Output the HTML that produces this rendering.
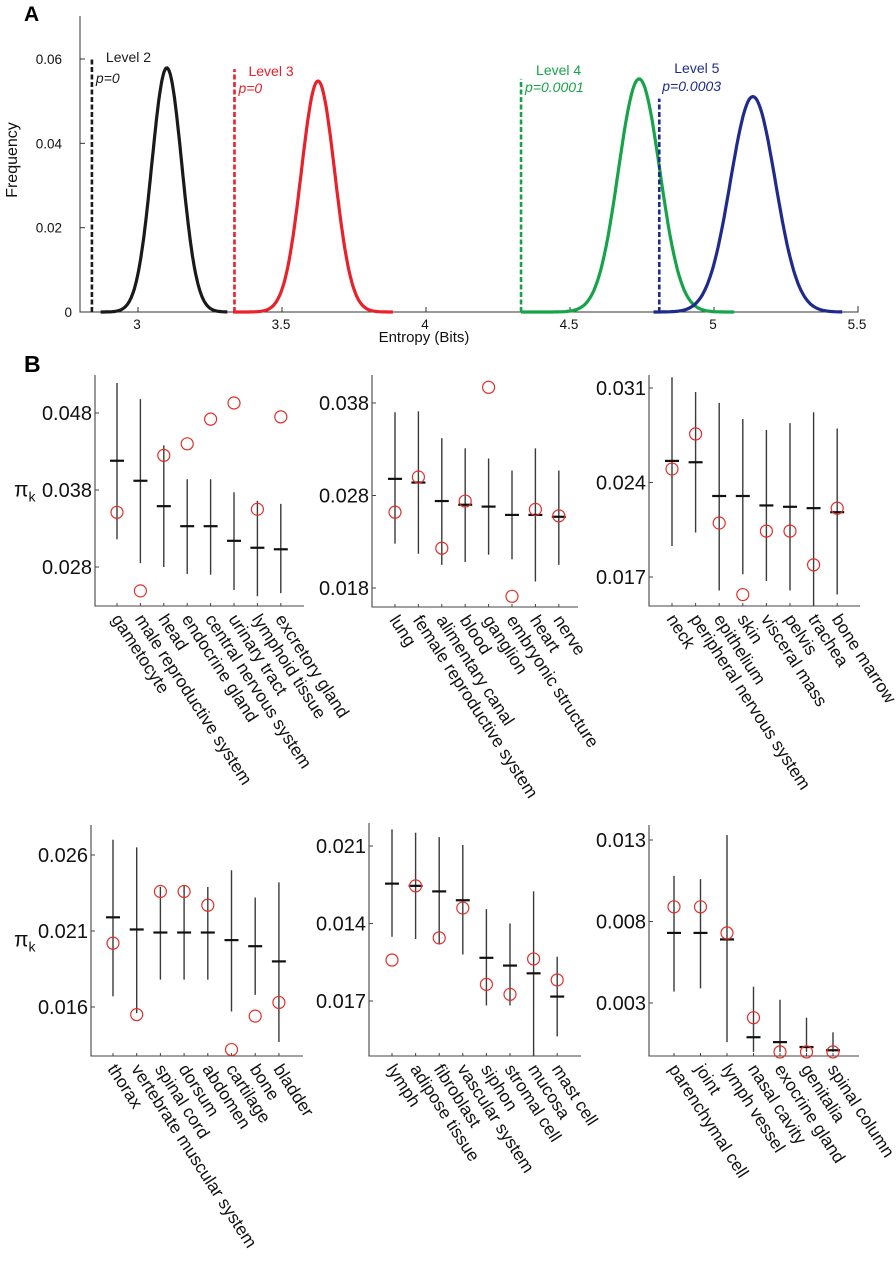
<!DOCTYPE html>
<html>
<head>
<meta charset="utf-8">
<style>
html,body{margin:0;padding:0;background:#fff;}
svg{display:block;font-family:"Liberation Sans",Arial,sans-serif;}
</style>
</head>
<body>
<svg id="fig" width="896" height="1280" viewBox="0 0 896 1280" xmlns="http://www.w3.org/2000/svg">
<text x="24" y="21" font-size="21" font-weight="bold">A</text>
<text x="24" y="372" font-size="23" font-weight="bold">B</text>
</svg>
<script>
// ---------- Panel A data ----------
const levelNames = ["Level 2","Level 3","Level 4","Level 5"];
const pLabels = ["p=0","p=0","p=0.0001","p=0.0003"];
const curveCenters = [3.10, 3.625, 4.74, 5.135];
const curvePeaks = [0.0579, 0.0548, 0.0553, 0.0511];
const curveSigmas = [0.052, 0.058, 0.072, 0.078];
const curveStarts = [2.87, 3.33, 4.33, 4.79];
const curveEnds = [3.31, 3.885, 5.07, 5.445];
const observedX = [2.84, 3.335, 4.33, 4.81];
const observedTop = [0.060, 0.0576, 0.0553, 0.0506];
const aXTicks = [3, 3.5, 4, 4.5, 5, 5.5];
const aXTickLabels = ["3","3.5","4","4.5","5","5.5"];
const aYTicks = [0, 0.02, 0.04, 0.06];
const aYTickLabels = ["0","0.02","0.04","0.06"];

// ---------- Panel B data ----------
const b1Cats = ["gametocyte","male reproductive system","head","endocrine gland","central nervous system","urinary tract","lymphoid tissue","excretory gland"];
const b1Mean = [0.0418,0.0392,0.0359,0.0333,0.0333,0.0314,0.0305,0.0303];
const b1Hi = [0.0519,0.0498,0.0438,0.0394,0.0394,0.0377,0.0366,0.0362];
const b1Lo = [0.0316,0.0285,0.0280,0.0271,0.0270,0.0250,0.0242,0.0246];
const b1Obs = [0.0351,0.0249,0.0425,0.0440,0.0472,0.0493,0.0355,0.0475];
const b1Ticks = [0.028,0.038,0.048];
const b1TickLabels = ["0.028","0.038","0.048"];

const b2Cats = ["lung","female reproductive system","alimentary canal","blood","ganglion","embryonic structure","heart","nerve"];
const b2Mean = [0.0298,0.0294,0.0274,0.0270,0.0268,0.0259,0.0259,0.0257];
const b2Hi = [0.0370,0.0371,0.0342,0.0331,0.0320,0.0307,0.0331,0.0307];
const b2Lo = [0.0228,0.0217,0.0205,0.0208,0.0216,0.0211,0.0187,0.0205];
const b2Obs = [0.0262,0.0300,0.0223,0.0274,0.0397,0.0171,0.0265,0.0258];
const b2Ticks = [0.018,0.028,0.038];
const b2TickLabels = ["0.018","0.028","0.038"];

const b3Cats = ["neck","peripheral nervous system","epithelium","skin","visceral mass","pelvis","trachea","bone marrow"];
const b3Mean = [0.0256,0.0255,0.0230,0.0230,0.0223,0.0222,0.0221,0.0218];
const b3Hi = [0.0318,0.0307,0.0299,0.0287,0.0279,0.0284,0.0292,0.0280];
const b3Lo = [0.0193,0.0203,0.0160,0.0172,0.0167,0.0160,0.0149,0.0157];
const b3Obs = [0.0250,0.0276,0.0210,0.0157,0.0204,0.0204,0.0179,0.0221];
const b3Ticks = [0.017,0.024,0.031];
const b3TickLabels = ["0.017","0.024","0.031"];

const b4Cats = ["thorax","vertebrate muscular system","spinal cord","dorsum","abdomen","cartilage","bone","bladder"];
const b4Mean = [0.0219,0.0211,0.0209,0.0209,0.0209,0.0204,0.0200,0.0190];
const b4Hi = [0.0270,0.0265,0.0239,0.0240,0.0239,0.0250,0.0232,0.0242];
const b4Lo = [0.0167,0.0156,0.0178,0.0178,0.0178,0.0157,0.0168,0.0137];
const b4Obs = [0.0202,0.0155,0.0236,0.0236,0.0227,0.0132,0.0154,0.0163];
const b4Ticks = [0.016,0.021,0.026];
const b4TickLabels = ["0.016","0.021","0.026"];

const b5Cats = ["lymph","adipose tissue","fibroblast","vascular system","siphon","stromal cell","mucosa","mast cell"];
const b5Mean = [0.0176,0.0174,0.0169,0.0161,0.0109,0.0102,0.0095,0.0074];
const b5Hi = [0.0225,0.0222,0.0218,0.0211,0.0153,0.0140,0.0169,0.0110];
const b5Lo = [0.0128,0.0126,0.0121,0.0112,0.0066,0.0066,0.0020,0.0038];
const b5Obs = [0.0107,0.0174,0.0127,0.0154,0.0085,0.0076,0.0108,0.0089];
const b5Ticks = [0.007,0.014,0.021];
const b5TickLabels = ["0.017","0.014","0.021"];

const b6Cats = ["parenchymal cell","joint","lymph vessel","nasal cavity","exocrine gland","genitalia","spinal column"];
const b6Mean = [0.0073,0.0073,0.0069,0.0009,0.0006,0.0003,0.0001];
const b6Hi = [0.0108,0.0106,0.0133,0.0040,0.0032,0.0021,0.0012];
const b6Lo = [0.0037,0.0039,0.0006,0.0000,0.0000,0.0000,0.0000];
const b6Obs = [0.0089,0.0089,0.0073,0.0021,0.0000,0.0000,0.0000];
const b6Ticks = [0.003,0.008,0.013];
const b6TickLabels = ["0.003","0.008","0.013"];

const NS = "http://www.w3.org/2000/svg";
const svg = document.getElementById("fig");
function mk(tag, attrs, parent){
  const e = document.createElementNS(NS, tag);
  for (const k in attrs) e.setAttribute(k, attrs[k]);
  (parent||svg).appendChild(e);
  return e;
}

// ---------- Panel A drawing ----------
const colors = ["#1a1a1a","#e8212b","#17a34a","#1f2a8c"];
const ax = v => 138 + (v - 3) * 288;
const ay = v => 312 - v / 0.06 * 253;
const nameOffX = [14, 14, 15, 15];
const nameY = [62, 76, 75, 73];
const pOffX = [4, 4, 4, 3];
const pY = [83, 93, 92, 91];
const gA = mk("g", {});


let el = mk("path", {d:`M80 16 V312 H858 V306`, fill:"none", stroke:"#333", "stroke-width":1}, gA);


aXTicks.forEach((t,i)=>{
  const x = ax(t);
  const tk = mk("line",{x1:x,x2:x,y1:312,y2:307,stroke:"#333","stroke-width":1},gA);
  
  
  const lb = mk("text",{x:x-1,y:329,"font-size":13.5,"text-anchor":"middle",fill:"#111"},gA);
  lb.textContent = aXTickLabels[i];
  
  
});
aYTicks.forEach((t,i)=>{
  const y = ay(t);
  const tk = mk("line",{x1:80,x2:85,y1:y,y2:y,stroke:"#333","stroke-width":1},gA);
  
  
  const lb = mk("text",{x:i===0?72:62,y:y+5,"font-size":13.5,"text-anchor":"end",fill:"#111"},gA);
  lb.textContent = aYTickLabels[i];
  
  
});
el = mk("text",{x:424,y:342,"font-size":15,"text-anchor":"middle",fill:"#111"},gA);
el.textContent = "Entropy (Bits)";


el = mk("text",{x:0,y:0,"font-size":16,"text-anchor":"middle",fill:"#111",transform:"translate(17,160) rotate(-90)"},gA);
el.textContent = "Frequency";



levelNames.forEach((name,i)=>{
  let d = "";
  const n = 120;
  for (let k=0;k<=n;k++){
    const v = curveStarts[i] + (curveEnds[i]-curveStarts[i])*k/n;
    const f = curvePeaks[i]*Math.exp(-0.5*Math.pow((v-curveCenters[i])/curveSigmas[i],2));
    d += (k?"L":"M") + ax(v).toFixed(1) + " " + ay(f).toFixed(1) + " ";
  }
  const c = mk("path",{d:d,fill:"none",stroke:colors[i],"stroke-width":3.2,"stroke-linejoin":"round"},gA);
  
  
  const xo = ax(observedX[i]);
  const dl = mk("line",{x1:xo,x2:xo,y1:312,y2:ay(observedTop[i]),stroke:colors[i],"stroke-width":2.6,"stroke-dasharray":"5 2.5"},gA);
  
  
  const t1 = mk("text",{x:xo+nameOffX[i],y:nameY[i],"font-size":14,fill:colors[i]},gA);
  t1.textContent = name;
  
  
  const t2 = mk("text",{x:xo+pOffX[i],y:pY[i],"font-size":14,"font-style":"italic",fill:colors[i]},gA);
  t2.textContent = pLabels[i];
  
  
});

// ---------- Panel B drawing ----------
function panel(idx, cats, mean, hi, lo, obs, ticks, tickLabels, box, ymap, cx0, cstep, showYTitle){
  const g = mk("g",{});
  
  
  const [L,T,R,B] = box;
  const [v0,p0,v1,p1] = ymap;
  const y = v => p0 + (v - v0) * (p1 - p0) / (v1 - v0);
  const x = i => cx0 + i * cstep;
  let a = mk("path",{d:`M${L} ${T} V${B} H${R}`,fill:"none",stroke:"#444","stroke-width":1.1},g);
  
  
  ticks.forEach((t,i)=>{
    const yy = y(t);
    const tk = mk("line",{x1:L,x2:L+4,y1:yy,y2:yy,stroke:"#444","stroke-width":1},g);
    
    
    const lb = mk("text",{x:L-3,y:yy+7,"font-size":20,"text-anchor":"end",fill:"#111"},g);
    lb.textContent = tickLabels[i];
    
    
  });
  if (showYTitle){
    const yt = mk("text",{x:14,y:(T+B)/2+6,"font-size":21,fill:"#111"},g);
    
    
    yt.textContent = "\u03C0";
    const sub = mk("tspan",{"font-size":14,dy:5},yt);
    sub.textContent = "k";
  }
  cats.forEach((c,i)=>{
    const xx = x(i);
    const tk = mk("line",{x1:xx,x2:xx,y1:B,y2:B-3,stroke:"#444","stroke-width":1},g);
    
    
    const bar = mk("line",{x1:xx,x2:xx,y1:y(hi[i]),y2:Math.min(B,y(lo[i])),stroke:"#3a3a3a","stroke-width":1.4},g);
    
    
    const m = mk("line",{x1:xx-7,x2:xx+7,y1:y(mean[i]),y2:y(mean[i]),stroke:"#111","stroke-width":2.2},g);
    
    
    const o = mk("circle",{cx:xx,cy:Math.min(B-3,y(obs[i])),r:6,fill:"none",stroke:"#e0302a","stroke-width":1.2},g);
    
    
    const lb = mk("text",{x:0,y:0,"font-size":17.5,fill:"#111",transform:`translate(${xx-6},${B+13}) rotate(57)`},g);
    lb.textContent = c;
    
    
  });
}
panel(1,b1Cats,b1Mean,b1Hi,b1Lo,b1Obs,b1Ticks,b1TickLabels,[95,375,304,606],[0.028,567,0.048,413],117,23.4,true);
panel(2,b2Cats,b2Mean,b2Hi,b2Lo,b2Obs,b2Ticks,b2TickLabels,[372,375,578,607],[0.018,588,0.038,403],395,23.4,false);
panel(3,b3Cats,b3Mean,b3Hi,b3Lo,b3Obs,b3Ticks,b3TickLabels,[649,375,860,606],[0.017,577,0.031,388],672,23.6,false);
panel(4,b4Cats,b4Mean,b4Hi,b4Lo,b4Obs,b4Ticks,b4TickLabels,[91,825,303,1056],[0.016,1007,0.026,855],113,23.7,true);
panel(5,b5Cats,b5Mean,b5Hi,b5Lo,b5Obs,b5Ticks,b5TickLabels,[369,823,581,1056],[0.007,1001,0.021,846],392,23.6,false);
panel(6,b6Cats,b6Mean,b6Hi,b6Lo,b6Obs,b6Ticks,b6TickLabels,[649,825,859,1056],[0.003,1003,0.013,840],674,26.5,false);
</script>
</body>
</html>
